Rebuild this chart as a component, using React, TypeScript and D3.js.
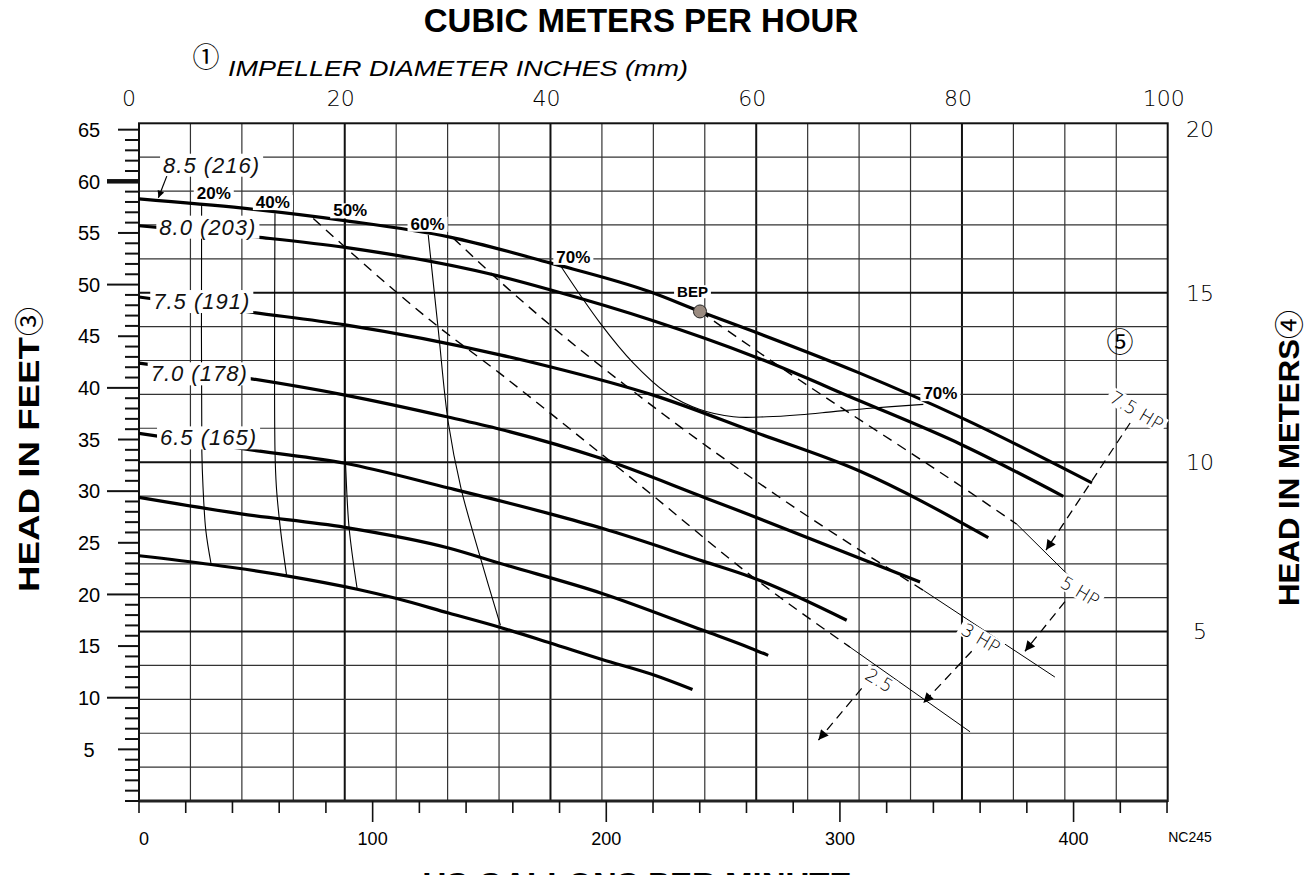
import { useEffect, useRef } from "react";
import * as d3 from "d3";

const GPM_PER_M3H = 4.40287;
const FT_PER_M = 3.28084;

// axis labels
const gpmLabels = [0, 100, 200, 300, 400];
const m3hLabels = [0, 20, 40, 60, 80, 100];
const ftLabels = [5, 10, 15, 20, 25, 30, 35, 40, 45, 50, 55, 60, 65];
const meterLabels = [5, 10, 15, 20];

// impeller curves, US GPM vs head in feet
const imp85Gpm = [0, 44.5, 88.2, 133.1, 175.9, 218.7, 240.1, 263.7, 307.7, 352.1, 407.9];
const imp85Ft = [58.3, 57.4, 56.2, 54.6, 52.1, 49.3, 47.4, 45.4, 41.5, 37.1, 30.8];
const imp80Gpm = [0, 50.5, 88.2, 154.5, 175.9, 220.1, 263.7, 307.9, 352.1, 395.6];
const imp80Ft = [55.7, 54.6, 53.6, 50.8, 49.5, 46.5, 43.0, 38.8, 34.5, 29.5];
const imp75Gpm = [0, 48.9, 88.2, 154.5, 175.9, 220.1, 263.7, 307.9, 363.5];
const imp75Ft = [48.8, 47.3, 46.1, 43.2, 42.05, 39.3, 35.7, 32.0, 25.5];
const imp70Gpm = [0, 47.5, 88.2, 131.7, 154.5, 197.3, 243, 261.5, 334.3];
const imp70Ft = [42.4, 40.9, 39.3, 37.2, 36.0, 33.2, 29.3, 27.7, 21.2];
const imp65Gpm = [0, 50.8, 88.1, 132.5, 176, 198.2, 241.7, 261.8, 302.9];
const imp65Ft = [35.6, 33.9, 32.7, 30.3, 27.8, 26.4, 23.2, 21.7, 17.5];
const impSixthGpm = [0, 43.7, 88.1, 132.5, 154.7, 198.2, 241.7, 261.8, 269.3];
const impSixthFt = [29.4, 27.8, 26.5, 24.5, 23.0, 20.1, 16.5, 14.8, 14.1];
const impSeventhGpm = [0, 30.9, 63.2, 93.4, 110.3, 132.5, 154.7, 176, 198.2, 220.4, 236.9];
const impSeventhFt = [23.75, 22.9, 21.8, 20.5, 19.6, 18.2, 16.8, 15.3, 13.7, 12.2, 10.8];

const impLabels = ["8.5 (216)", "8.0 (203)", "7.5 (191)", "7.0 (178)", "6.5 (165)"];
const impLabelGpm = [10.3, 8.7, 6.1, 5.0, 9.0];
const impLabelFt = [61.6, 55.6, 48.4, 41.4, 35.2];

// efficiency lines
const eff20Gpm = [26.8, 26.9, 27.4, 28.6, 30.9];
const eff20Ft = [57.7, 33.8, 30.4, 26.2, 22.9];
const eff40Gpm = [58.2, 58.2, 58.8, 60.6, 63.2];
const eff40Ft = [56.9, 34.0, 30.4, 26.2, 21.8];
const eff50Gpm = [88.2, 88.2, 88.4, 89.9, 93.4];
const eff50Ft = [56.2, 34.0, 32.7, 26.5, 20.5];
const eff60Gpm = [123.8, 128.1, 132.4, 137.8, 145.8, 154.7];
const eff60Ft = [54.8, 45.6, 36.6, 30.3, 23.8, 17.0];
const eff70Gpm = [180.2, 197.3, 211.6, 225.9, 240.1, 254.4, 268.7, 283, 297.2, 311.5, 335.7];
const eff70Ft = [51.9, 46.3, 42.4, 39.5, 37.9, 37.2, 37.2, 37.4, 37.7, 38.0, 38.4];

const effLabels = ["20%", "40%", "50%", "60%", "70%", "70%", "BEP"];
const effLabelGpm = [32.0, 57.3, 90.4, 123.5, 185.9, 343.0, 236.9];
const effLabelFt = [58.9, 58.0, 57.2, 55.9, 52.7, 39.5, 49.3];

const bepGpm = 240.1;
const bepFt = 47.4;

// horsepower lines (dashed part, then thin solid tail)
const hp5DashGpm = [240.1, 277.2, 354.3, 375.7];
const hp5DashFt = [47.4, 41.6, 30.1, 26.8];
const hp5TailGpm = [375.7, 407];
const hp5TailFt = [26.8, 19.8];
const hp3DashGpm = [134.5, 154.5, 224.7, 272.9, 335.7];
const hp3DashFt = [54.5, 50.3, 37.4, 29.6, 20.4];
const hp3TailGpm = [335.7, 392];
const hp3TailFt = [20.4, 12.0];
const hp25DashGpm = [74.6, 126, 154.5, 179.6, 218.7, 261.5, 304.3];
const hp25DashFt = [56.4, 46.3, 41.4, 36.9, 29.8, 21.9, 14.9];
const hp25TailGpm = [304.3, 355.7];
const hp25TailFt = [14.9, 6.7];

const hpLabels = ["7.5 HP", "5 HP", "3 HP", "2.5"];
const hpLabelGpm = [427.0, 402.8, 360.3, 316.9];
const hpLabelFt = [37.8, 20.3, 15.75, 11.7];
const hpArrowFromGpm = [424.2, 396.3, 356.4, 309.3];
const hpArrowFromFt = [36.6, 19.3, 14.5, 10.9];
const hpArrowToGpm = [388.2, 379.2, 335.7, 290.8];
const hpArrowToFt = [24.3, 14.5, 9.5, 5.9];

// leader from the 8.5 label to its curve
const leadGpm = [11.9, 8.3];
const leadFt = [60.5, 58.4];

const SANS = "'Liberation Sans', Arial, Helvetica, sans-serif";
const THIN = "'DejaVu Sans', sans-serif";
const CIRCLED = "'Noto Sans CJK JP', 'DejaVu Sans', sans-serif";

function pairs(a: number[], b: number[]): [number, number][] {
  return a.map((v, i) => [v, b[i]]);
}

function boxIt(g: any, padX = 2, padY = 0) {
  const t = g.select("text").node() as SVGTextElement;
  const b = t.getBBox();
  g.insert("rect", "text")
    .attr("x", b.x - padX)
    .attr("y", b.y - padY)
    .attr("width", b.width + padX * 2)
    .attr("height", b.height + padY * 2)
    .attr("fill", "#fff");
}

export default function App() {
  const ref = useRef<SVGSVGElement>(null);

  useEffect(() => {
    if (!ref.current) return;
    const svg = d3.select(ref.current);
    svg.selectAll("*").remove();

    const W = 1315;
    const H = 875;
    const margin = { top: 123.3, right: 147.3, bottom: 74, left: 139 };
    const left = margin.left;
    const right = W - margin.right;
    const top = margin.top;
    const bottom = H - margin.bottom;

    const x = d3.scaleLinear().domain([0, 100 * GPM_PER_M3H]).range([left, right]);
    const xm = d3.scaleLinear().domain([0, 100]).range([left, right]);
    const y = d3.scaleLinear().domain([0, 20 * FT_PER_M]).range([bottom, top]);
    const ym = d3.scaleLinear().domain([0, 20]).range([bottom, top]);

    svg.append("rect").attr("width", W).attr("height", H).attr("fill", "#fff");

    const defs = svg.append("defs");
    defs
      .append("marker")
      .attr("id", "hpArrow")
      .attr("viewBox", "0 0 10 10")
      .attr("refX", 10)
      .attr("refY", 5)
      .attr("markerWidth", 16)
      .attr("markerHeight", 10)
      .attr("markerUnits", "userSpaceOnUse")
      .attr("orient", "auto")
      .append("path")
      .attr("d", "M0,0L10,5L0,10Z")
      .attr("fill", "#000");
    defs
      .append("marker")
      .attr("id", "smallArrow")
      .attr("viewBox", "0 0 10 10")
      .attr("refX", 10)
      .attr("refY", 5)
      .attr("markerWidth", 10)
      .attr("markerHeight", 7)
      .attr("markerUnits", "userSpaceOnUse")
      .attr("orient", "auto")
      .append("path")
      .attr("d", "M0,0L10,5L0,10Z")
      .attr("fill", "#000");

    // grid in metric units
    svg
      .append("g")
      .selectAll("line")
      .data(d3.range(5, 100, 5))
      .join("line")
      .attr("x1", (d) => xm(d))
      .attr("x2", (d) => xm(d))
      .attr("y1", top)
      .attr("y2", bottom)
      .attr("stroke", (d) => (d % 20 === 0 ? "#111" : "#333"))
      .attr("stroke-width", (d) => (d % 20 === 0 ? 2 : 1.2));

    svg
      .append("g")
      .selectAll("line")
      .data(d3.range(1, 20))
      .join("line")
      .attr("x1", left)
      .attr("x2", right)
      .attr("y1", (d) => ym(d))
      .attr("y2", (d) => ym(d))
      .attr("stroke", (d) => (d % 5 === 0 ? "#111" : "#333"))
      .attr("stroke-width", (d) => (d % 5 === 0 ? 2 : 1.2));

    // frame
    svg
      .append("rect")
      .attr("x", left)
      .attr("y", top)
      .attr("width", right - left)
      .attr("height", bottom - top)
      .attr("fill", "none")
      .attr("stroke", "#111")
      .attr("stroke-width", 2);
    svg
      .append("line")
      .attr("x1", left)
      .attr("x2", right)
      .attr("y1", bottom)
      .attr("y2", bottom)
      .attr("stroke", "#222")
      .attr("stroke-width", 3);

    // left ticks, one per foot
    svg
      .append("g")
      .selectAll("line")
      .data(d3.range(0, 66))
      .join("line")
      .attr("x1", (d) => left - (d > 0 && d % 10 === 0 ? 32 : d % 5 === 0 && d > 0 ? 21 : 14))
      .attr("x2", left)
      .attr("y1", (d) => y(d))
      .attr("y2", (d) => y(d))
      .attr("stroke", "#111")
      .attr("stroke-width", (d) => (d === 60 ? 4.5 : 2));

    // bottom ticks every 20 gpm
    svg
      .append("g")
      .selectAll("line")
      .data(d3.range(0, 441, 20))
      .join("line")
      .attr("x1", (d) => x(d))
      .attr("x2", (d) => x(d))
      .attr("y1", bottom)
      .attr("y2", (d) => bottom + (d > 0 && d % 100 === 0 ? 21 : 12))
      .attr("stroke", "#111")
      .attr("stroke-width", 1.6);

    // tick labels
    svg
      .append("g")
      .selectAll("text")
      .data(ftLabels)
      .join("text")
      .attr("x", 89)
      .attr("y", (d) => y(d))
      .attr("dy", "0.36em")
      .attr("text-anchor", "middle")
      .attr("font-family", SANS)
      .attr("font-size", 20)
      .text((d) => d);

    svg
      .append("g")
      .selectAll("text")
      .data(gpmLabels)
      .join("text")
      .attr("x", (d) => x(d) + (d === 0 ? 5 : 0))
      .attr("y", 845)
      .attr("text-anchor", "middle")
      .attr("font-family", SANS)
      .attr("font-size", 18)
      .text((d) => d);

    svg
      .append("g")
      .selectAll("text")
      .data(m3hLabels)
      .join("text")
      .attr("x", (d) => xm(d) - (d === 0 ? 10 : 4))
      .attr("y", 106)
      .attr("text-anchor", "middle")
      .attr("font-family", THIN)
      .attr("font-weight", 200)
      .attr("font-size", 22)
      .text((d) => d);

    svg
      .append("g")
      .selectAll("text")
      .data(meterLabels)
      .join("text")
      .attr("x", 1200)
      .attr("y", (d) => ym(d) + (d === 20 ? 6 : 0))
      .attr("dy", "0.36em")
      .attr("text-anchor", "middle")
      .attr("font-family", THIN)
      .attr("font-weight", 200)
      .attr("font-size", 22)
      .text((d) => d);

    // efficiency lines
    const thinLine = d3
      .line<[number, number]>()
      .x((d) => x(d[0]))
      .y((d) => y(d[1]))
      .curve(d3.curveCatmullRom);
    [
      pairs(eff20Gpm, eff20Ft),
      pairs(eff40Gpm, eff40Ft),
      pairs(eff50Gpm, eff50Ft),
      pairs(eff60Gpm, eff60Ft),
      pairs(eff70Gpm, eff70Ft),
    ].forEach((pts) => {
      svg
        .append("path")
        .datum(pts)
        .attr("fill", "none")
        .attr("stroke", "#000")
        .attr("stroke-width", 1.1)
        .attr("d", thinLine);
    });

    // horsepower lines
    const straight = d3
      .line<[number, number]>()
      .x((d) => x(d[0]))
      .y((d) => y(d[1]))
      .curve(d3.curveMonotoneX);
    [
      pairs(hp5DashGpm, hp5DashFt),
      pairs(hp3DashGpm, hp3DashFt),
      pairs(hp25DashGpm, hp25DashFt),
    ].forEach((pts) => {
      svg
        .append("path")
        .datum(pts)
        .attr("fill", "none")
        .attr("stroke", "#000")
        .attr("stroke-width", 1.4)
        .attr("stroke-dasharray", "10,7")
        .attr("d", straight);
    });
    [
      pairs(hp5TailGpm, hp5TailFt),
      pairs(hp3TailGpm, hp3TailFt),
      pairs(hp25TailGpm, hp25TailFt),
    ].forEach((pts) => {
      svg
        .append("path")
        .datum(pts)
        .attr("fill", "none")
        .attr("stroke", "#000")
        .attr("stroke-width", 1)
        .attr("d", straight);
    });

    // impeller curves
    const curve = d3
      .line<[number, number]>()
      .x((d) => x(d[0]))
      .y((d) => y(d[1]))
      .curve(d3.curveMonotoneX);
    [
      pairs(imp85Gpm, imp85Ft),
      pairs(imp80Gpm, imp80Ft),
      pairs(imp75Gpm, imp75Ft),
      pairs(imp70Gpm, imp70Ft),
      pairs(imp65Gpm, imp65Ft),
      pairs(impSixthGpm, impSixthFt),
      pairs(impSeventhGpm, impSeventhFt),
    ].forEach((pts) => {
      svg
        .append("path")
        .datum(pts)
        .attr("fill", "none")
        .attr("stroke", "#000")
        .attr("stroke-width", 3.2)
        .attr("d", curve);
    });

    // impeller labels
    impLabels.forEach((lab, i) => {
      const g = svg.append("g");
      g.append("text")
        .attr("x", x(impLabelGpm[i]))
        .attr("y", y(impLabelFt[i]))
        .attr("dy", "0.36em")
        .attr("font-family", SANS)
        .attr("font-style", "italic")
        .attr("font-size", 22)
        .attr("letter-spacing", 1)
        .attr("fill", "#111")
        .text(lab);
      boxIt(g, 3, -1);
    });

    svg
      .append("line")
      .attr("x1", x(leadGpm[0]))
      .attr("y1", y(leadFt[0]))
      .attr("x2", x(leadGpm[1]))
      .attr("y2", y(leadFt[1]))
      .attr("stroke", "#000")
      .attr("stroke-width", 1.2)
      .attr("marker-end", "url(#smallArrow)");

    // efficiency labels
    effLabels.forEach((lab, i) => {
      const g = svg.append("g");
      g.append("text")
        .attr("x", x(effLabelGpm[i]))
        .attr("y", y(effLabelFt[i]))
        .attr("dy", "0.36em")
        .attr("text-anchor", "middle")
        .attr("font-family", SANS)
        .attr("font-weight", "bold")
        .attr("font-size", lab === "BEP" ? 15 : 17)
        .text(lab);
      boxIt(g, 3, -2);
    });

    // HP arrows and labels
    hpArrowFromGpm.forEach((_, i) => {
      svg
        .append("line")
        .attr("x1", x(hpArrowFromGpm[i]))
        .attr("y1", y(hpArrowFromFt[i]))
        .attr("x2", x(hpArrowToGpm[i]))
        .attr("y2", y(hpArrowToFt[i]))
        .attr("stroke", "#000")
        .attr("stroke-width", 1.3)
        .attr("stroke-dasharray", "9,6")
        .attr("marker-end", "url(#hpArrow)");
    });
    hpLabels.forEach((lab, i) => {
      const g = svg
        .append("g")
        .attr("transform", `translate(${x(hpLabelGpm[i])},${y(hpLabelFt[i])}) rotate(31)`);
      g.append("text")
        .attr("text-anchor", "middle")
        .attr("dy", "0.36em")
        .attr("font-family", THIN)
        .attr("font-weight", 200)
        .attr("font-size", 18)
        .text(lab);
      boxIt(g, 3, -2);
    });

    // best efficiency point
    svg
      .append("circle")
      .attr("cx", x(bepGpm))
      .attr("cy", y(bepFt))
      .attr("r", 6.5)
      .attr("fill", "#9a8b80")
      .attr("stroke", "#222")
      .attr("stroke-width", 1);

    // circled note numbers
    svg
      .append("text")
      .attr("x", 206)
      .attr("y", 67)
      .attr("text-anchor", "middle")
      .attr("font-family", CIRCLED)
      .attr("font-size", 27)
      .text("\u2460");
    svg
      .append("text")
      .attr("x", x(419.9))
      .attr("y", y(44.4))
      .attr("dy", "0.36em")
      .attr("text-anchor", "middle")
      .attr("font-family", CIRCLED)
      .attr("font-size", 27)
      .text("\u2464");

    // titles
    svg
      .append("text")
      .attr("x", 641)
      .attr("y", 32)
      .attr("text-anchor", "middle")
      .attr("font-family", SANS)
      .attr("font-weight", "bold")
      .attr("font-size", 33)
      .text("CUBIC METERS PER HOUR");

    svg
      .append("text")
      .attr("x", 228)
      .attr("y", 76)
      .attr("font-family", SANS)
      .attr("font-style", "italic")
      .attr("font-size", 22)
      .attr("textLength", 460)
      .attr("lengthAdjust", "spacingAndGlyphs")
      .text("IMPELLER DIAMETER INCHES (mm)");

    svg
      .append("text")
      .attr("x", 637)
      .attr("y", 896)
      .attr("text-anchor", "middle")
      .attr("font-family", SANS)
      .attr("font-weight", "bold")
      .attr("font-size", 33)
      .text("US GALLONS PER MINUTE");

    svg
      .append("text")
      .attr("x", 1190)
      .attr("y", 842)
      .attr("text-anchor", "middle")
      .attr("font-family", SANS)
      .attr("font-size", 14)
      .text("NC245");

    const leftTitle = svg.append("g").attr("transform", "translate(39,592) rotate(-90)");
    leftTitle
      .append("text")
      .attr("font-family", SANS)
      .attr("font-weight", "bold")
      .attr("font-size", 30)
      .attr("textLength", 255)
      .attr("lengthAdjust", "spacingAndGlyphs")
      .text("HEAD IN FEET");
    leftTitle
      .append("text")
      .attr("x", 256)
      .attr("y", 1)
      .attr("font-family", CIRCLED)
      .attr("font-size", 29)
      .text("\u2462");

    const rightTitle = svg.append("g").attr("transform", "translate(1299,606) rotate(-90)");
    rightTitle
      .append("text")
      .attr("font-family", SANS)
      .attr("font-weight", "bold")
      .attr("font-size", 30)
      .attr("textLength", 267)
      .attr("lengthAdjust", "spacingAndGlyphs")
      .text("HEAD IN METERS");
    rightTitle
      .append("text")
      .attr("x", 267)
      .attr("y", 1)
      .attr("font-family", CIRCLED)
      .attr("font-size", 29)
      .text("\u2463");
  }, []);

  return (
    <svg
      ref={ref}
      width={1315}
      height={875}
      style={{ position: "absolute", left: 0, top: 0, display: "block" }}
    />
  );
}
